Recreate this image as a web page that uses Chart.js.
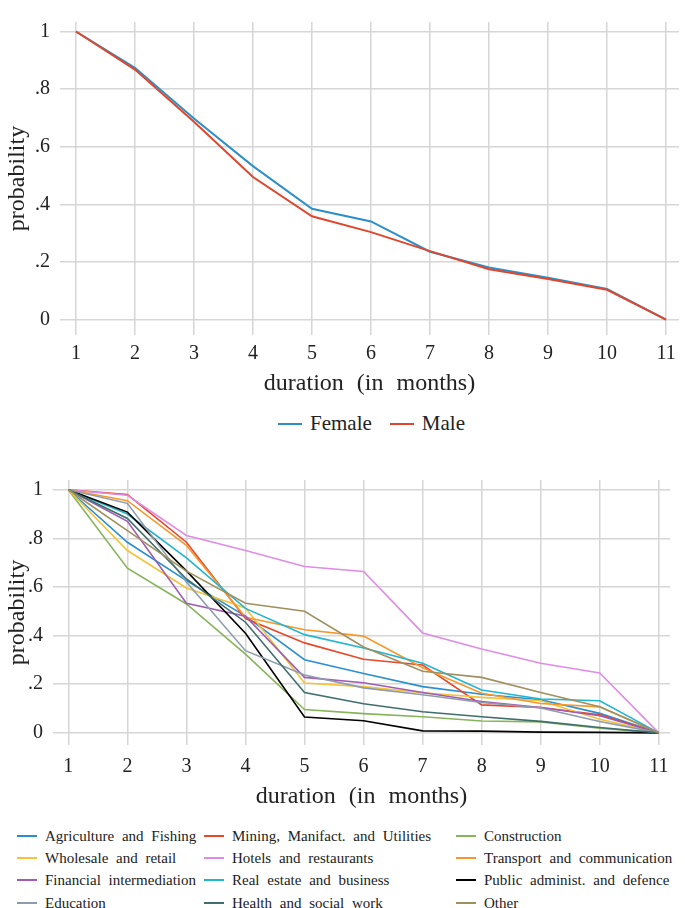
<!DOCTYPE html>
<html>
<head>
<meta charset="utf-8">
<script src="https://cdn.jsdelivr.net/npm/chart.js@4.4.1/dist/chart.umd.min.js"></script>
<style>
  body { margin: 0; background: #fff; font-family: "Liberation Serif", "DejaVu Serif", "Times New Roman", Times, serif; }
  #topChart { position: absolute; left: 0; top: 0; }
  #bottomChart { position: absolute; left: 0; top: 440px; }
  .legend { position: absolute; color: #222; word-spacing: 4px; }
  .item { display: flex; align-items: center; white-space: nowrap; }
  .swatch { display: inline-block; height: 2px; }
  #topLegend { left: 278px; top: 411px; display: flex; font-size: 21px; }
  #topLegend .swatch { width: 24px; margin-right: 8px; }
  #topLegend .item { margin-right: 18px; }
  #bottomLegend { left: 17px; top: 824.5px; display: grid;
    grid-template-columns: 187px 252px 230px; grid-auto-rows: 22.3px; font-size: 15px; line-height: 22px; }
  #bottomLegend .swatch { width: 20px; margin-right: 8px; }
</style>
</head>
<body>
<canvas id="topChart" width="685" height="400"></canvas>
<div id="topLegend" class="legend"></div>
<canvas id="bottomChart" width="685" height="375"></canvas>
<div id="bottomLegend" class="legend"></div>
<script>
// duration axis
const months = [1, 2, 3, 4, 5, 6, 7, 8, 9, 10, 11];
const yTickValues = [0, 0.2, 0.4, 0.6, 0.8, 1];
const yTickLabels = ['0', '.2', '.4', '.6', '.8', '1'];

// top panel: by gender
const female = [1, 0.874, 0.698, 0.533, 0.385, 0.341, 0.236, 0.181, 0.146, 0.107, 0];
const male   = [1, 0.868, 0.687, 0.495, 0.359, 0.304, 0.238, 0.175, 0.141, 0.104, 0];
const genderLabels = ['Female', 'Male'];
const genderColors = ['#2d8fc8', '#e0462c'];

// bottom panel: by sector
const agriculture  = [1, 0.784, 0.626, 0.480, 0.301, 0.244, 0.190, 0.159, 0.136, 0.080, 0];
const mining       = [1, 0.980, 0.784, 0.470, 0.370, 0.303, 0.279, 0.115, 0.104, 0.074, 0];
const construction = [1, 0.677, 0.530, 0.324, 0.096, 0.079, 0.066, 0.049, 0.045, 0.019, 0];
const wholesale    = [1, 0.750, 0.596, 0.514, 0.205, 0.190, 0.165, 0.146, 0.132, 0.056, 0];
const hotels       = [1, 0.977, 0.812, 0.750, 0.684, 0.664, 0.411, 0.345, 0.286, 0.246, 0];
const transport    = [1, 0.955, 0.771, 0.475, 0.424, 0.398, 0.268, 0.163, 0.121, 0.107, 0];
const financial    = [1, 0.870, 0.533, 0.480, 0.228, 0.206, 0.166, 0.129, 0.104, 0.070, 0];
const realEstate   = [1, 0.900, 0.720, 0.512, 0.404, 0.349, 0.286, 0.176, 0.139, 0.132, 0];
const publicAdmin  = [1, 0.908, 0.666, 0.410, 0.065, 0.050, 0.008, 0.007, 0.003, 0.002, 0];
const education    = [1, 0.944, 0.620, 0.338, 0.238, 0.185, 0.157, 0.125, 0.102, 0.047, 0];
const health       = [1, 0.882, 0.633, 0.455, 0.166, 0.120, 0.087, 0.066, 0.047, 0.022, 0];
const other        = [1, 0.832, 0.665, 0.533, 0.500, 0.353, 0.253, 0.228, 0.166, 0.107, 0];

const sectorLabels = ['Agriculture and Fishing', 'Mining, Manifact. and Utilities', 'Construction',
  'Wholesale and retail', 'Hotels and restaurants', 'Transport and communication',
  'Financial intermediation', 'Real estate and business', 'Public administ. and defence',
  'Education', 'Health and social work', 'Other'];
const sectorSeries = [agriculture, mining, construction, wholesale, hotels, transport,
  financial, realEstate, publicAdmin, education, health, other];
const sectorColors = ['#2a8fd0', '#e8472a', '#86b45a', '#f3c33a', '#e08be6', '#f6972b',
  '#a05cb4', '#20b5d0', '#000000', '#8d9cad', '#3f6f6d', '#a0905e'];

const FONT = '"Liberation Serif", "DejaVu Serif", "Times New Roman", Times, serif';
const gridColor = '#d6d6d6';

const spacing = {
  id: 'spacing',
  beforeDraw(chart) { chart.ctx.wordSpacing = '7px'; }
};

function makeDatasets(series, labels, colors, width) {
  return series.map((s, i) => ({
    label: labels[i],
    data: months.map((m, j) => ({ x: m, y: s[j] })),
    borderColor: colors[i],
    backgroundColor: colors[i],
    borderWidth: width,
    pointRadius: 0,
    tension: 0,
    order: series.length - i
  }));
}

function makeChart(id, datasets, g) {
  return new Chart(document.getElementById(id), {
    type: 'line',
    data: { datasets },
    options: {
      responsive: false,
      animation: false,
      layout: { padding: { top: g.top, right: g.right, left: 0, bottom: 0 } },
      plugins: { legend: { display: false }, tooltip: { enabled: false } },
      scales: {
        x: {
          type: 'linear', min: g.xMin, max: g.xMax,
          afterBuildTicks: s => { s.ticks = months.map(v => ({ value: v })); },
          afterFit: s => { s.height = g.xHeight; },
          grid: { color: gridColor, lineWidth: 1.5, drawTicks: false },
          border: { display: false },
          ticks: { padding: g.xPad, color: '#222', font: { family: FONT, size: 20 },
            callback: v => String(v) },
          title: { display: true, text: 'duration (in months)', color: '#222',
            font: { family: FONT, size: 24 }, padding: { top: 0, bottom: g.titlePad } }
        },
        y: {
          min: g.yMin, max: g.yMax,
          afterBuildTicks: s => { s.ticks = yTickValues.map(v => ({ value: v })); },
          afterFit: s => { s.width = g.yWidth; },
          grid: { color: gridColor, lineWidth: 1.5, drawTicks: false },
          border: { display: false },
          ticks: { padding: 10, color: '#222', font: { family: FONT, size: 20 },
            callback: v => yTickLabels[yTickValues.findIndex(t => Math.abs(t - v) < 1e-6)] },
          title: { display: true, text: 'probability', color: '#222',
            font: { family: FONT, size: 24 }, padding: { top: 3, bottom: 0 } }
        }
      }
    },
    plugins: [spacing]
  });
}

makeChart('topChart', makeDatasets([female, male], genderLabels, genderColors, 2), {
  top: 5, right: 6, yWidth: 60, xHeight: 65, xPad: 7, titlePad: 2,
  xMin: 0.73, xMax: 11.22, yMin: -0.053, yMax: 1.033
});

makeChart('bottomChart', makeDatasets(sectorSeries, sectorLabels, sectorColors, 1.6), {
  top: 40, right: 15, yWidth: 53, xHeight: 70, xPad: 10, titlePad: 4,
  xMin: 0.74, xMax: 11.19, yMin: -0.05, yMax: 1.04
});

function buildLegend(el, labels, colors) {
  labels.forEach((t, i) => {
    const item = document.createElement('div');
    item.className = 'item';
    const sw = document.createElement('span');
    sw.className = 'swatch';
    sw.style.background = colors[i];
    item.appendChild(sw);
    item.appendChild(document.createTextNode(t));
    el.appendChild(item);
  });
}
buildLegend(document.getElementById('topLegend'), genderLabels, genderColors);
buildLegend(document.getElementById('bottomLegend'), sectorLabels, sectorColors);
</script>
</body>
</html>
